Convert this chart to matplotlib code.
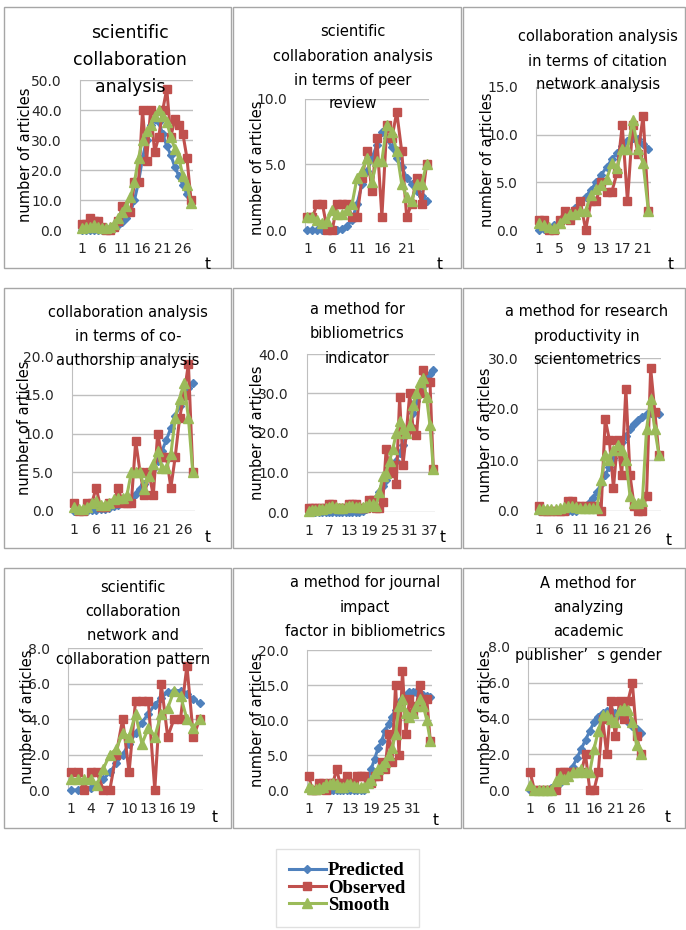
import matplotlib
matplotlib.use("Agg")
import matplotlib.pyplot as plt
from matplotlib.patches import Rectangle
from matplotlib.lines import Line2D
import numpy as np

plt.rcParams['font.family'] = ['DejaVu Sans']

# ---------------- data ----------------
titles = [
    "scientific\ncollaboration\nanalysis",
    "scientific\ncollaboration analysis\nin terms of peer\nreview",
    "collaboration analysis\nin terms of citation\nnetwork analysis",
    "collaboration analysis\nin terms of co-\nauthorship analysis",
    "a method for\nbibliometrics\nindicator",
    "a method for research\nproductivity in\nscientometrics",
    "scientific\ncollaboration\nnetwork and\ncollaboration pattern",
    "a method for journal\nimpact\nfactor in bibliometrics",
    "A method for\nanalyzing\nacademic\npublisher\u2019  s gender",
]
series_names = ["Predicted", "Observed", "Smooth"]
y_label = "number of articles"
x_label = "t"

p1_pred = [0,0,0,0,0,0,0.2,0.5,1,1.5,2.5,4,6,10,16,24,30,35,37,36,32,28,25,21,18,15,12,10]
p1_obs = [2,2,4,3,3,1,0,0,1,3,8,6,6,16,16,40,23,40,26,31,40,47,31,37,35,32,24,10]
p1_smooth = [0.5,1,1,1.5,1,0.5,0.5,1,2,4,6,8,11,16,24,30,33,35,38,40,38,36,31,27,24,18,15,9]

p2_pred = [0,0,0,0,0,0,0,0.1,0.3,0.8,2,3.5,4.5,5.5,6.5,7.5,7,6.3,5.5,4.8,4,3.5,3,2.6,2.2]
p2_obs = [1,1,2,2,0,0,2,2,2,1,1,4,6,3,7,1,8,7,9,6,1,2,4,2,5]
p2_smooth = [1,1,0.8,0.5,0.7,1.5,1.2,1.2,1.5,2,4,4.5,5.5,3.7,5.3,5.3,8,7.5,6,3.5,2.5,2.2,3.5,3.5,5]

p3_pred = [0,0.1,0.2,0.5,0.9,1.3,1.8,2.3,2.9,3.5,4.2,5,5.8,6.6,7.4,8.1,8.8,9.3,9.6,9.5,9,8.5]
p3_obs = [1,1,0,0,1,2,1,2,3,0,3,3,5,4,4,6,11,3,11,8,12,2]
p3_smooth = [0.7,0.5,0.3,0.2,0.7,1.3,1.7,1.7,2,2,3.7,4.3,4.7,5.3,7,6.5,8.5,8.5,11.5,8.5,7,2]

p4_pred = [0,0,0,0,0.1,0.1,0.2,0.3,0.4,0.6,0.8,1,1.3,1.7,2.2,2.8,3.5,4.4,5.4,6.5,7.8,9.2,10.7,12.2,13.6,14.9,15.9,16.5]
p4_obs = [1,0,0,1,1,3,0.5,0.5,1,1,3,1,1,1,9,5,2,5,2,10,7,7,3,7,12,15,19,5]
p4_smooth = [0.5,0.3,0.2,0.5,1,1.3,0.8,0.8,1,1.5,1.7,1.7,2,5,5,5,2.8,4.5,6,7.8,5.5,5.5,7.3,12,14.5,16.5,12,5]

p5_pred = [0,0,0,0,0,0,0,0,0,0,0,0,0,0,0,0,
           0.3,0.8,1.5,2.5,3.5,5,6.5,8,9.5,11,13,15,17,19.5,22,25,28,30,32,34,35,36]
p5_obs = [1,1,1,1,1,1,2,2,1,1,1,1,2,2,2,1,1,1,3,
          3,1,1,2.5,16,10,12,7,29,12,20,30,21,19.5,30,36,33,33,11]
p5_smooth = [0.3,0.5,0.5,0.7,0.7,1,1.3,1.5,1.3,1,1,1.2,1.5,1.5,1.3,1.2,1.2,1.5,2,2,1.5,
             5,9,10,13,16,20,23,21,20,22,27,30,33,34,29,22,11]

p6_pred = [0,0,0,0,0,0,0,0,0,0,
           0.3,0.8,1.5,2.5,3.8,5.3,7,8.7,10.4,12,13.5,14.8,16,17,17.8,18.5,19,19.3,19.2,19]
p6_obs = [1,0,0,0,0,0,0,2,2,1,1,1,1,1,1,0,18,14,4.5,14,7,24,7,1,0,0,3,28,19.5,11]
p6_smooth = [0.3,0.3,0.3,0.3,0.3,0.5,0.7,1,1,0.7,0.5,0.5,0.5,0.5,0.5,6,11,10,12,13,12,10,3,1.5,1.5,2,16,22,16,11]

p7_pred = [0,0,0,0.1,0.3,0.6,1,1.5,2,2.6,3.2,3.8,4.3,4.8,5.2,5.5,5.6,5.6,5.4,5.1,4.9]
p7_obs = [1,1,0,1,1,0,0,2,4,1,5,5,5,0,6,3,4,4,7,3,4]
p7_smooth = [0.6,0.6,0.6,0.6,0.3,1.2,2,2.3,3.2,3,4.3,2.6,3.5,3,4.3,4.6,5.6,5.3,4,3.5,4]

p8_pred = [0,0,0,0,0,0,0,0,0,0,0,0,0,0,0,0,0,
           1.5,3,4.5,6,7,8.5,9.5,10.5,11.5,12.5,13,13.5,14,14,14,13.8,13.6,13.5,13.3]
p8_obs = [2,0,0,1,1,0,1,1,3,1,1,2,1,1,2,2,2,1,1,2,2,4,3,8,4,15,5,17,8,13,11,12,15,13,13,7]
p8_smooth = [0.5,0.2,0.2,0.3,0.5,0.8,0.8,1,0.8,0.5,0.5,0.8,0.8,0.6,0.5,0.5,0.5,1,1.5,2.5,
             3,3.5,4,5,6,8,12,13,11,10.5,11,12,13,12,10,7]

p9_pred = [0,0,0,0,0,0.1,0.2,0.4,0.6,0.9,1.3,1.8,2.3,2.8,3.3,3.8,4.1,4.3,4.4,4.4,4.3,4.2,4,3.8,3.6,3.4,3.2]
p9_obs = [1,0,0,0,0,0,0,1,1,1,1,1,1,2,0,0,1,4,2,5,3,5,4,5,6,3,2]
p9_smooth = [0.3,0,0,0,0,0,0.5,0.8,0.6,0.8,1,1,1.2,1,1,2.3,3.3,4.2,4.2,4,3.8,4.5,4.6,4.5,3.8,2.5,2]

y_max = [50, 10, 15, 20, 40, 30, 8, 20, 8]
y_step = [10, 5, 5, 5, 10, 10, 2, 5, 2]
x_label_step = [5, 5, 4, 5, 6, 5, 3, 6, 5]

all_pred = [p1_pred, p2_pred, p3_pred, p4_pred, p5_pred, p6_pred, p7_pred, p8_pred, p9_pred]
all_obs = [p1_obs, p2_obs, p3_obs, p4_obs, p5_obs, p6_obs, p7_obs, p8_obs, p9_obs]
all_smooth = [p1_smooth, p2_smooth, p3_smooth, p4_smooth, p5_smooth, p6_smooth, p7_smooth, p8_smooth, p9_smooth]

# ---------------- layout (pixels) ----------------
W, H = 686, 930
fig = plt.figure(figsize=(W / 100, H / 100), dpi=100)

plot_boxes = [
    (80, 193, 80, 230), (305, 429, 99, 230), (536, 651, 87, 230),
    (72, 195, 356, 511), (307, 435, 354, 512), (537, 661, 358, 511),
    (68, 203, 648, 790), (307, 432, 650, 790), (528, 643, 647, 790),
]
panel_boxes = [
    (4, 231, 7, 268), (233, 461, 7, 268), (463, 685, 7, 268),
    (4, 231, 288, 548), (233, 461, 288, 548), (463, 685, 288, 548),
    (4, 231, 568, 828), (233, 461, 568, 828), (463, 685, 568, 828),
]
title_pos = [
    (130, 33, 27), (353, 32, 24), (598, 37, 24),
    (128, 312, 24), (357, 310, 24), (587, 312, 24),
    (133, 587, 24), (365, 583, 24), (588, 583, 24),
]
ylab_pos = [(26, 155), (258, 168), (487, 160), (25, 428), (257, 433), (485, 435),
            (27, 717), (257, 720), (485, 717)]
t_pos = [(208, 264), (440, 264), (671, 264), (208, 537), (443, 537), (669, 540),
         (215, 817), (436, 820), (668, 818)]

BLUE = "#4F81BD"
RED = "#C0504D"
GREEN = "#9BBB59"
GRID = "#BFBFBF"
BORDER = "#A6A6A6"

def fx(x):
    return x / W

def fy(y):
    return 1 - y / H

for k in range(9):
    l, r, t, b = panel_boxes[k]
    fig.add_artist(Rectangle((fx(l), fy(b)), fx(r - l), (b - t) / H,
                             transform=fig.transFigure, fill=False,
                             edgecolor=BORDER, linewidth=1.0))

for k in range(9):
    l, r, t, b = plot_boxes[k]
    ax = fig.add_axes([fx(l), fy(b), fx(r - l), (b - t) / H])
    n = len(all_obs[k])
    x = np.arange(1, n + 1)
    ax.plot(x, all_pred[k], color=BLUE, lw=2.2, marker="D", ms=4.2,
            mec=BLUE, mfc=BLUE, clip_on=False, zorder=3)
    ax.plot(x, all_obs[k], color=RED, lw=2.2, marker="s", ms=6.3,
            mec=RED, mfc=RED, clip_on=False, zorder=4)
    ax.plot(x, all_smooth[k], color=GREEN, lw=2.2, marker="^", ms=7,
            mec=GREEN, mfc=GREEN, clip_on=False, zorder=5)
    ax.set_xlim(0.5, n + 0.5)
    ax.set_ylim(0, y_max[k])
    yt = np.arange(0, y_max[k] + 0.01, y_step[k])
    ax.set_yticks(yt)
    ax.set_yticklabels([f"{v:.1f}" for v in yt], fontsize=10, color="#262626")
    xt = np.arange(1, n + 1, x_label_step[k])
    ax.set_xticks(xt)
    ax.set_xticklabels([str(v) for v in xt], fontsize=10, color="#262626")
    ax.tick_params(axis="x", length=0, pad=8.5)
    ax.tick_params(axis="y", length=0, pad=13)
    ax.grid(axis="y", color=GRID, lw=1.0)
    ax.set_axisbelow(True)
    for s in ["top", "right", "bottom"]:
        ax.spines[s].set_visible(False)
    ax.spines["left"].set_color(GRID)
    ax.patch.set_alpha(0)

    cx, y0, dy = title_pos[k]
    fs = 12.5 if k == 0 else 10.5
    for j, line in enumerate(titles[k].split("\n")):
        fig.text(fx(cx), fy(y0 + j * dy), line, ha="center", va="center",
                 fontsize=fs, color="black", zorder=10)
    yx, yy = ylab_pos[k]
    fig.text(fx(yx), fy(yy), y_label, rotation=90, ha="center", va="center",
             fontsize=10.5, color="black", zorder=10)
    tx, ty = t_pos[k]
    fig.text(fx(tx), fy(ty), x_label, ha="center", va="center", fontsize=11, color="black")

# legend
handles = [
    Line2D([0], [0], color=BLUE, lw=2.2, marker="D", ms=4.5, mfc=BLUE, mec=BLUE),
    Line2D([0], [0], color=RED, lw=2.2, marker="s", ms=6, mfc=RED, mec=RED),
    Line2D([0], [0], color=GREEN, lw=2.2, marker="^", ms=6.5, mfc=GREEN, mec=GREEN),
]
leg = fig.legend(handles, series_names, loc="center",
                 bbox_to_anchor=(fx(347), fy(888)), frameon=True, fancybox=False,
                 prop={"family": "Liberation Serif", "weight": "bold", "size": 13.5},
                 handlelength=2.0, handletextpad=0.1, labelspacing=0.0,
                 borderpad=0.7, edgecolor="#D9D9D9")
leg.get_frame().set_linewidth(1.0)

fig.savefig("out.png", dpi=100)
